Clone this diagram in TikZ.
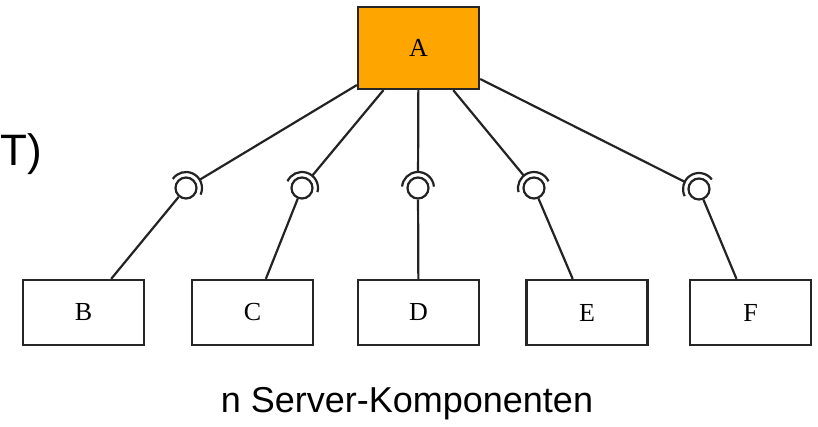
\documentclass[tikz,border=0pt]{standalone}
\usepackage{fontspec}
\setmainfont{Liberation Serif}
\newfontfamily\labelfont{Liberation Sans}
\usepackage{xcolor}
\usepackage{tikz}
\usetikzlibrary{calc}
\definecolor{boxorange}{RGB}{255,165,0}
\definecolor{wiregray}{RGB}{35,35,35}
\def\sockr{16pt}
\def\iface#1#2{%
  \node [ball] (b#1) at (#2) {};
  \coordinate (s#1) at ($(b#1)!\sockr!(A.center)$);
  \draw [wire] let \p1=($(A.center)-(b#1)$), \n1={(atan2(\y1,\x1)+90)/2} in
    ($(b#1)+(\n1-85:\sockr)$) arc [start angle=\n1-85,delta angle=170,radius=\sockr];
  \draw [wire] (A) -- (s#1);
  \draw [wire] (b#1) -- (#1)}
\tikzstyle{comp}=[draw=black!85,line width=2.3pt,minimum width=121pt,inner sep=0pt,font=\fontsize{26}{28}\selectfont]
\tikzstyle{client}=[comp,fill=boxorange,minimum height=82pt]
\tikzstyle{server}=[comp,fill=white,minimum height=65pt]
\tikzstyle{ball}=[circle,draw=wiregray,line width=2.2pt,minimum size=21pt,inner sep=0pt]
\tikzstyle{wire}=[draw=wiregray,line width=2.2pt]
\tikzstyle{caption}=[font=\labelfont\fontsize{36}{40}\selectfont,inner sep=0pt]

\begin{document}
\begin{tikzpicture}[x=1pt,y=-1pt]
    \clip (0,0) rectangle (818,427);
    \node [client] (A) at (418.5,48) {A};
    \node [server] (B) at (83.5,312.5) {B};
    \node [server] (C) at (252.5,312.5) {C};
    \node [server] (D) at (418.5,312.5) {D};
    \node [server] (E) at (587,312.5) {E};
    \node [server] (F) at (750.5,312.5) {F};
    \iface{B}{186,188};
    \iface{C}{302,188};
    \iface{D}{418,188};
    \iface{E}{534,188};
    \iface{F}{699,189};
    \node [caption,anchor=base west,font=\labelfont\fontsize{44}{48}\selectfont] (client) at (0,166) {T)};
    \node [caption,anchor=base] (servers) at (407,412) {n Server-Komponenten};
  \end{tikzpicture}
\end{document}
